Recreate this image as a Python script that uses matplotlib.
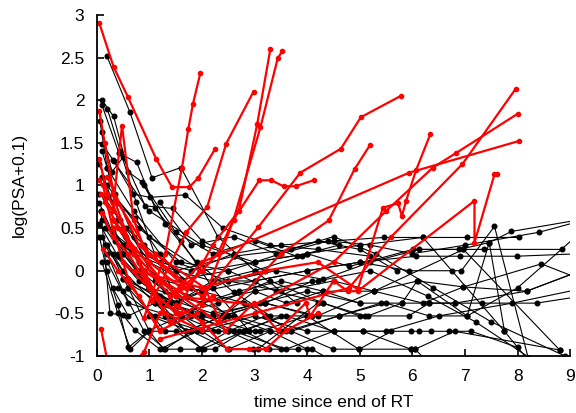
import matplotlib
matplotlib.use("Agg")
import matplotlib.pyplot as plt

plt.rcParams['font.family'] = ['Liberation Sans', 'DejaVu Sans']

# patients without recurrence (black) - time since end of RT, log(PSA+0.1)
black_times = [
    [0.19, 0.63, 1.05, 1.6, 2.3, 3.0, 3.8],
    [0.1, 0.32, 0.6, 0.86, 1.3, 1.9, 2.6, 3.3],
    [0.1, 0.42, 0.76, 1.11, 1.6, 2.2, 2.9],
    [0.1, 0.29, 0.5, 0.92, 1.45, 2.0, 2.6, 3.2],
    [0.1, 0.32, 0.69, 1.01, 1.68, 2.4, 3.3, 4.2, 5.2],
    [0.05, 0.2, 0.73, 1.2, 1.8, 2.5, 3.3],
    [0.05, 0.3, 0.7, 1.2, 1.8, 2.6, 3.5, 4.5, 5.46, 6.2, 7.04, 8.03],
    [0.1, 0.4, 0.9, 1.5, 2.2, 3.0, 4.0, 5.0, 5.93, 6.76, 6.93, 7.56, 8.2],
    [0.08, 0.35, 0.8, 1.3, 2.0, 2.7, 3.5, 4.3, 5.27, 6.1, 6.97, 8.17, 9.2],
    [0.15, 0.5, 1.0, 1.6, 2.4, 3.2, 4.1, 5.15, 5.8, 6.32, 6.81, 7.33, 8.36, 9.2],
    [0.2, 0.6, 1.0, 1.27, 1.59, 1.92, 2.5, 3.2, 4.0],
    [0.1, 0.4, 0.64, 1.0, 1.5, 2.03, 2.24, 2.8, 3.5],
    [0.3, 0.8, 1.3, 2.0, 2.51, 2.97, 3.06, 3.5, 4.2],
    [0.4, 1.0, 1.8, 2.5, 3.27, 3.83, 4.09, 4.6],
    [0.5, 1.2, 2.0, 3.0, 3.7, 4.49, 4.99, 5.6],
    [1.0, 1.8, 2.6, 3.6, 4.5, 5.06, 5.97, 6.05, 6.5],
    [0.3, 1.0, 2.0, 3.0, 4.0, 4.8, 6.01, 6.89, 7.46, 7.88, 9.2],
    [0.2, 0.7, 1.5, 2.5, 3.4, 4.3, 5.2, 6.13, 6.97, 7.37, 8.84],
    [0.1, 0.5, 1.2, 2.0, 3.0, 4.0, 5.0, 6.07, 6.9, 7.98, 9.2],
    [0.15, 0.6, 1.3, 2.2, 3.1, 4.0, 5.0, 5.8, 6.09, 7.04, 7.46, 7.75],
    [0.5, 1.2, 2.2, 3.2, 4.2, 5.27, 6.2, 6.97, 8.45, 9.2],
    [0.4, 1.1, 2.0, 3.0, 4.0, 5.06, 5.97, 6.13, 6.36, 6.7, 7.12, 8.0],
    [0.6, 1.3, 2.2, 3.1, 4.0, 4.98, 5.97, 6.05, 6.8, 8.8],
    [0.3, 0.9, 1.7, 2.6, 3.6, 4.6, 5.5, 6.32, 7.04, 8.0, 9.2],
    [0.2, 0.6, 1.4, 2.3, 3.3, 4.3, 5.0, 5.93, 6.32, 6.81, 8.17, 9.2],
    [0.3, 1.0, 2.0, 3.0, 4.0, 5.0, 6.2, 7.75, 8.4],
    [0.5, 1.5, 2.5, 3.5, 4.5, 5.27, 6.97, 8.8],
    [0.2, 0.8, 1.6, 2.5, 3.5, 4.4, 5.2, 6.0, 7.0, 8.4, 9.3],
    [0.1, 0.5, 1.1, 1.8, 2.7, 3.6, 4.5, 5.5, 6.5, 7.9, 9.3],
    [0.3, 1.0, 2.0, 3.0, 4.2, 5.2, 6.3, 7.2, 8.3],
    [0.2, 0.7, 1.5, 2.6, 3.7, 4.5, 5.3, 6.4, 7.5, 8.9],
    [0.05, 0.19, 0.4, 0.6, 1.0, 1.6, 2.3],
    [0.08, 0.25, 0.5, 0.73, 1.2, 1.9, 2.6],
    [0.05, 0.3, 0.55, 0.9, 1.3, 2.0, 2.8, 3.5],
    [0.06, 0.2, 0.45, 0.8, 1.2, 1.7, 2.4, 3.2, 4.1],
    [0.1, 0.35, 0.7, 1.1, 1.5, 2.2, 3.0, 3.9],
    [0.15, 0.55, 1.0, 1.6, 2.5, 3.4, 4.3, 5.1],
    [0.05, 0.4, 0.8, 1.4, 2.0, 2.8, 3.7, 4.6, 5.4],
    [0.2, 0.5, 0.9, 1.3, 1.8, 2.5, 3.3, 4.0],
    [0.3, 0.6, 1.1, 1.7, 2.4, 3.0, 3.6, 4.3, 5.0],
    [0.9, 1.5, 2.2, 3.0, 3.8, 4.6],
    [1.2, 1.8, 2.6, 3.4, 4.2, 5.0, 5.7],
    [0.2, 0.45, 0.75, 1.1, 1.5, 2.0],
]
black_values = [
    [2.52, 1.86, 1.09, 1.21, 0.4, 0.0, -0.38],
    [2.0, 1.81, 1.16, 1.04, 0.55, 0.1, -0.25, -0.53],
    [1.94, 1.38, 1.27, 0.73, 0.35, -0.2, -0.71],
    [1.63, 1.16, 1.33, 0.76, 0.73, 0.35, 0.17, 0.0],
    [1.49, 1.29, 0.9, 0.86, 0.89, 0.5, 0.3, 0.25, 0.17],
    [0.9, 0.86, 0.62, 0.2, -0.2, -0.53, -0.71],
    [0.79, 0.45, 0.25, 0.1, 0.0, 0.2, 0.3, 0.35, 0.39, 0.39, 0.39, 0.39],
    [1.1, 0.6, 0.3, 0.0, -0.12, -0.12, 0.0, 0.1, 0.0, 0.0, 0.0, 0.52, -1.02],
    [0.7, 0.35, 0.0, -0.24, -0.38, -0.24, -0.12, -0.24, -0.24, -0.12, -0.19, -0.24, 0.0],
    [0.5, 0.2, -0.2, -0.53, -0.53, -0.38, -0.53, -0.53, -0.38, -0.38, -0.38, -0.38, -0.38, -0.3],
    [0.3, -0.2, -0.71, -0.92, -0.92, -0.92, -0.71, -0.53, -0.53],
    [0.1, -0.5, -0.92, -0.71, -0.71, -0.92, -0.92, -0.71, -0.53],
    [0.5, 0.0, -0.38, -0.71, -0.92, -0.92, -0.92, -0.71, -0.38],
    [0.2, -0.2, -0.5, -0.71, -0.92, -0.92, -0.92, -1.1],
    [-0.1, -0.38, -0.53, -0.71, -0.71, -0.92, -0.92, -0.71],
    [-0.53, -0.71, -0.71, -0.92, -0.71, -0.71, -0.92, -0.92, -1.2],
    [0.9, 0.4, 0.0, 0.1, 0.2, 0.05, 0.25, 0.25, 0.33, 0.46, 0.6],
    [1.2, 0.7, 0.1, -0.12, 0.0, -0.1, 0.1, 0.25, 0.25, 0.25, 0.25],
    [0.6, 0.3, -0.1, -0.24, -0.12, 0.0, 0.1, 0.17, 0.17, 0.17, 0.2],
    [0.3, -0.1, -0.38, -0.53, -0.38, -0.24, -0.38, -0.38, -0.12, -0.53, 0.33, -0.71],
    [0.2, -0.3, -0.5, -0.38, -0.53, -0.24, -0.38, -0.19, 0.08, -0.1],
    [-0.2, -0.53, -0.71, -0.53, -0.71, -0.71, -0.71, -0.71, -0.71, -0.71, -0.71, -0.9],
    [-0.2, -0.71, -0.71, -0.71, -0.53, -0.92, -0.92, -0.92, -0.71, -0.93],
    [0.6, 0.0, -0.3, -0.53, -0.71, -0.53, -0.38, -0.53, -0.53, -0.2, 0.45],
    [0.1, -0.38, -0.53, -0.38, -0.12, -0.38, -0.53, -0.53, -0.38, -0.38, -0.24, 0.0],
    [1.3, 0.7, 0.3, 0.1, 0.2, 0.3, 0.39, -0.71, -1.2],
    [-0.1, -0.38, -0.12, -0.24, -0.12, -0.24, 0.25, -0.93],
    [1.0, 0.5, 0.1, 0.0, 0.2, 0.35, 0.3, 0.2, 0.3, 0.45, 0.6],
    [0.4, 0.0, -0.38, -0.53, -0.71, -0.53, -0.71, -0.71, -0.53, -0.38, -0.2],
    [0.2, -0.2, -0.38, -0.24, -0.12, 0.0, -0.3, -0.6, -1.05],
    [0.5, 0.2, 0.0, 0.17, 0.25, 0.4, 0.2, -0.2, -0.6, -1.0],
    [0.4, 0.0, -0.4, -0.9, -0.7, -0.53, -0.71],
    [0.7, -0.5, -0.52, -0.7, -0.92, -0.71, -0.53],
    [1.25, 0.8, 0.4, 0.0, -0.53, -0.92, -0.71, -0.92],
    [1.75, 1.2, 0.6, 0.1, -0.38, -0.71, -0.53, -0.38, -0.12],
    [1.4, 0.9, 0.4, -0.12, -0.38, -0.12, 0.0, 0.17],
    [0.85, 0.5, 0.1, -0.1, 0.0, -0.24, -0.38, -0.53],
    [0.55, 0.17, -0.12, -0.38, -0.24, -0.38, -0.71, -0.53, -0.38],
    [0.2, -0.24, -0.71, -0.92, -0.71, -0.92, -0.71, -0.92],
    [-0.2, -0.53, -0.38, -0.71, -0.53, -0.24, -0.38, -0.24, -0.38],
    [1.0, 0.45, 0.2, 0.35, 0.17, 0.3],
    [0.8, 0.3, 0.4, 0.2, 0.35, 0.25, 0.0],
    [1.9, 1.4, 0.8, 0.2, -0.3, -0.5],
]

# patients with recurrence (red)
red_times = [
    [0.05, 0.32, 0.59, 1.13, 1.43, 1.76, 1.93, 2.25],
    [0.9, 1.3, 1.62, 1.74, 1.83, 1.97],
    [1.05, 1.7, 2.1, 2.46, 2.98],
    [0.5, 1.5, 2.2, 2.7, 3.05, 3.30],
    [0.3, 1.2, 2.0, 2.6, 3.11, 3.44, 3.53],
    [0.2, 0.8, 1.7, 2.3, 2.6, 3.09, 3.32, 3.55, 3.78, 4.12],
    [0.3, 1.0, 2.0, 3.07, 3.87, 4.64, 5.02, 5.78],
    [0.15, 0.9, 2.3, 3.5, 4.41, 4.9, 5.19],
    [1.2, 3.0, 4.8, 5.6, 6.95, 7.96],
    [0.4, 1.5, 3.0, 4.5, 5.5, 6.39, 6.83, 8.0],
    [0.6, 1.4, 2.0, 5.94, 8.02],
    [0.7, 2.0, 3.2, 4.2, 4.96, 5.44, 5.73, 5.8, 5.88, 6.07, 6.34],
    [1.1, 2.05, 2.44, 2.98, 3.44, 3.97, 4.06, 4.5, 4.77, 4.96, 7.18, 7.18, 7.56, 7.6],
    [1.5, 2.0, 2.48, 2.9, 3.21, 3.6, 4.2],
    [0.05, 0.15, 0.35, 0.7, 1.1, 1.6],
    [0.05, 0.2, 0.5, 0.9, 1.3, 2.0],
    [0.08, 0.3, 0.48, 0.7, 1.0, 1.6],
    [0.1, 0.3, 0.6, 1.0, 1.4, 2.2],
    [0.12, 0.4, 0.8, 1.2, 1.9],
    [0.08, 0.2],
    [0.75, 0.9, 1.2, 1.5, 2.0],
    [0.05, 0.12, 0.3, 0.6, 1.2],
]
red_values = [
    [2.9, 2.39, 2.04, 1.31, 0.98, 0.98, 1.09, 1.43],
    [-0.55, 0.2, 1.21, 1.66, 1.96, 2.32],
    [-0.35, 0.45, 0.75, 1.49, 2.1],
    [0.1, -0.5, 0.3, 0.7, 1.72, 2.60],
    [0.6, -0.1, -0.4, 0.6, 1.68, 2.49, 2.58],
    [1.1, 0.3, -0.2, 0.2, 0.6, 1.06, 1.06, 0.99, 0.99, 1.06],
    [0.9, 0.2, -0.3, 0.51, 1.15, 1.43, 1.8, 2.05],
    [0.8, 0.0, -0.6, 0.2, 0.59, 1.19, 1.47],
    [-0.8, -0.5, -0.2, 0.4, 1.25, 2.13],
    [0.5, -0.3, -0.4, 0.1, 0.7, 1.21, 1.38, 1.84],
    [0.3, -0.3, 0.1, 1.15, 1.52],
    [0.0, -0.2, 0.0, 0.1, -0.22, 0.74, 0.79, 0.64, 0.82, 1.18, 1.6],
    [0.2, -0.2, -0.71, -0.38, -0.7, -0.38, -0.53, -0.12, -0.24, -0.24, 0.82, 0.33, 1.13, 1.13],
    [-0.4, -0.6, -0.92, -0.92, -0.92, -0.7, -0.5],
    [1.87, 1.5, 0.8, 0.2, -0.3, -0.5],
    [1.31, 0.9, 0.5, 0.0, -0.5, -0.7],
    [0.9, 0.7, 1.7, 0.6, 0.1, -0.2],
    [0.68, 0.4, 0.2, -0.2, -0.6, -0.3],
    [0.26, 0.0, -0.3, -0.7, -0.5],
    [-0.68, -1.05],
    [-1.05, -0.95, -0.5, -0.25, 0.0],
    [1.06, 1.0, 0.5, -0.1, -0.71],
]

fig = plt.figure(figsize=(5.76, 4.13), dpi=100)
ax = fig.add_axes([0.168, 0.138, 0.822, 0.826])

for t, v in zip(black_times, black_values):
    ax.plot(t, v, color='black', lw=0.8, marker='o', ms=3.3)
for t, v in zip(red_times, red_values):
    ax.plot(t, v, color='red', lw=1.6, marker='o', ms=3.0)

ax.set_xlim(0, 9)
ax.set_ylim(-1, 3)
ax.set_xticks(range(0, 10))
ax.set_yticks([-1, -0.5, 0, 0.5, 1, 1.5, 2, 2.5, 3])
ax.set_yticklabels(['-1', '-0.5', '0', '0.5', '1', '1.5', '2', '2.5', '3'])
ax.spines['top'].set_visible(False)
ax.spines['right'].set_visible(False)
ax.spines['left'].set_linewidth(1.3)
ax.spines['bottom'].set_linewidth(1.3)
ax.tick_params(direction='in', length=5, width=1.2, labelsize=12.5)
ax.tick_params(axis='x', pad=9)
ax.tick_params(axis='y', pad=9)
ax.set_xlabel('time since end of RT', fontsize=12.5, labelpad=8)
ax.set_ylabel('log(PSA+0.1)', fontsize=12.5, labelpad=20)

fig.savefig('out.png', dpi=100)
